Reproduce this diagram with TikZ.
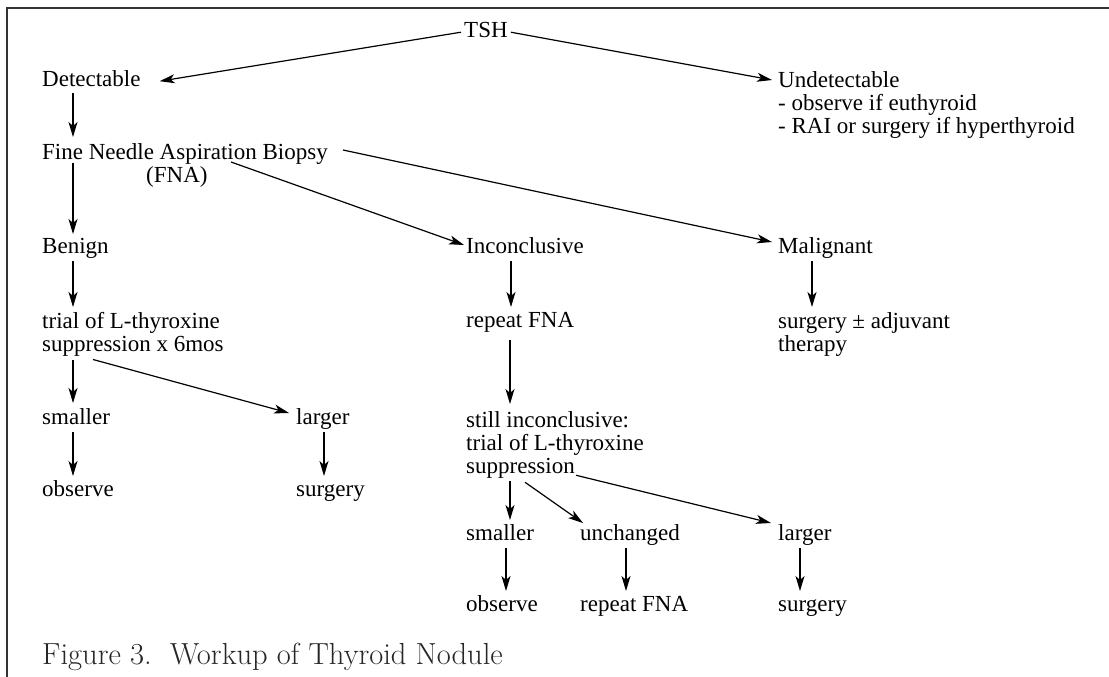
\documentclass[tikz,border=0pt]{standalone}
\usepackage{fontspec}
\newfontfamily\nodefont{Liberation Serif}
\usetikzlibrary{arrows.meta}

\begin{document}
\begin{tikzpicture}[x=1pt,y=-1pt,
    box/.style={anchor=north west,inner sep=0pt,text height=15pt,text depth=5pt,font=\nodefont\fontsize{23}{23}\selectfont},
    multi/.style={anchor=north west,inner sep=0pt,align=left,font=\nodefont\fontsize{23}{23}\selectfont},
    arr/.style={-{Stealth[length=15pt,width=9pt,inset=4pt]},line width=1.2pt}]
    \useasboundingbox (0,0) rectangle (1109,677);
    \draw[line width=1.5pt,black!80] (7,677) -- (7,8) -- (1109,8);

    \node[box] (TSH) at (464,22) {TSH};
    \node[box] (Det) at (42,71) {Detectable};
    \node[multi] (Und) at (778,71) {Undetectable\\- observe if euthyroid\\- RAI or surgery if hyperthyroid};
    \node[multi] (FNA) at (42,143) {Fine Needle Aspiration Biopsy\\\hspace*{104pt}(FNA)};
    \node[box] (Ben) at (42,238) {Benign};
    \node[box] (Inc) at (466,238) {Inconclusive};
    \node[box] (Mal) at (778,238) {Malignant};
    \node[multi] (Trial) at (42,312) {trial of L-thyroxine\\suppression x 6mos};
    \node[box] (Rep) at (466,312) {repeat FNA};
    \node[multi] (Surg) at (778,312) {surgery ± adjuvant\\therapy};
    \node[box] (SmlA) at (42,409) {smaller};
    \node[box] (LrgA) at (296,409) {larger};
    \node[box] (ObsA) at (42,481) {observe};
    \node[box] (SrgA) at (296,481) {surgery};
    \node[multi] (Still) at (466,411) {still inconclusive:\\trial of L-thyroxine\\suppression};
    \node[box] (SmlB) at (466,525) {smaller};
    \node[box] (Unc) at (580,525) {unchanged};
    \node[box] (LrgB) at (778,525) {larger};
    \node[box] (ObsB) at (466,596) {observe};
    \node[box] (RepB) at (580,596) {repeat FNA};
    \node[box] (SrgB) at (778,596) {surgery};
    \node[anchor=base west,inner sep=0pt,font=\fontsize{30.5}{31}\selectfont,text=black!85] (Cap) at (42,664) {Figure 3.\ \ Workup of Thyroid Nodule};

    \draw[arr] ([xshift=-3pt]TSH.west) -- ([xshift=19pt]Det.east);
    \draw[arr] ([xshift=3pt]TSH.east) -- ([xshift=-6pt,yshift=-9pt]Und.north west);
    \draw[arr] ([xshift=31pt,yshift=-2pt]Det.south west) -- ([xshift=31pt,yshift=6pt]FNA.north west);
    \draw[arr] ([xshift=31pt,yshift=-20pt]FNA.north west) -- ([xshift=31pt,yshift=4pt]Ben.north west);
    \draw[arr] ([xshift=189pt,yshift=-19pt]FNA.north west) -- ([xshift=-2pt,yshift=-7pt]Inc.north west);
    \draw[arr] ([xshift=301pt,yshift=-7pt]FNA.north west) -- ([xshift=-6pt,yshift=-4pt]Mal.north west);
    \draw[arr] ([xshift=31pt,yshift=-3pt]Ben.south west) -- ([xshift=31pt,yshift=5pt]Trial.north west);
    \draw[arr] ([xshift=45pt,yshift=-3pt]Inc.south west) -- ([xshift=45pt,yshift=5pt]Rep.north west);
    \draw[arr] ([xshift=34pt,yshift=-3pt]Mal.south west) -- ([xshift=34pt,yshift=5pt]Surg.north west);
    \draw[arr] ([xshift=31pt,yshift=-4pt]Trial.south west) -- ([xshift=31pt,yshift=6pt]SmlA.north west);
    \draw[arr] ([xshift=51pt,yshift=-3pt]Trial.south west) -- ([xshift=-7pt,yshift=-4pt]LrgA.north west);
    \draw[arr] ([xshift=31pt,yshift=-3pt]SmlA.south west) -- ([xshift=31pt,yshift=5pt]ObsA.north west);
    \draw[arr] ([xshift=28pt,yshift=-3pt]LrgA.south west) -- ([xshift=28pt,yshift=5pt]SrgA.north west);
    \draw[arr] ([xshift=44pt,yshift=-8pt]Rep.south west) -- ([xshift=44pt,yshift=7pt]Still.north west);
    \draw[arr] ([xshift=44pt,yshift=-3pt]Still.south west) -- ([xshift=44pt,yshift=5pt]SmlB.north west);
    \draw[arr] ([xshift=59pt,yshift=-4pt]Still.south west) -- ([xshift=3pt,yshift=2pt]Unc.north west);
    \draw[arr] ([xshift=110pt,yshift=3pt]Still.south west) -- ([xshift=-7pt,yshift=2pt]LrgB.north west);
    \draw[arr] ([xshift=40pt,yshift=-3pt]SmlB.south west) -- ([xshift=40pt,yshift=5pt]ObsB.north west);
    \draw[arr] ([xshift=46pt,yshift=-3pt]Unc.south west) -- ([xshift=46pt,yshift=5pt]RepB.north west);
    \draw[arr] ([xshift=22pt,yshift=-3pt]LrgB.south west) -- ([xshift=22pt,yshift=5pt]SrgB.north west);
\end{tikzpicture}
\end{document}
